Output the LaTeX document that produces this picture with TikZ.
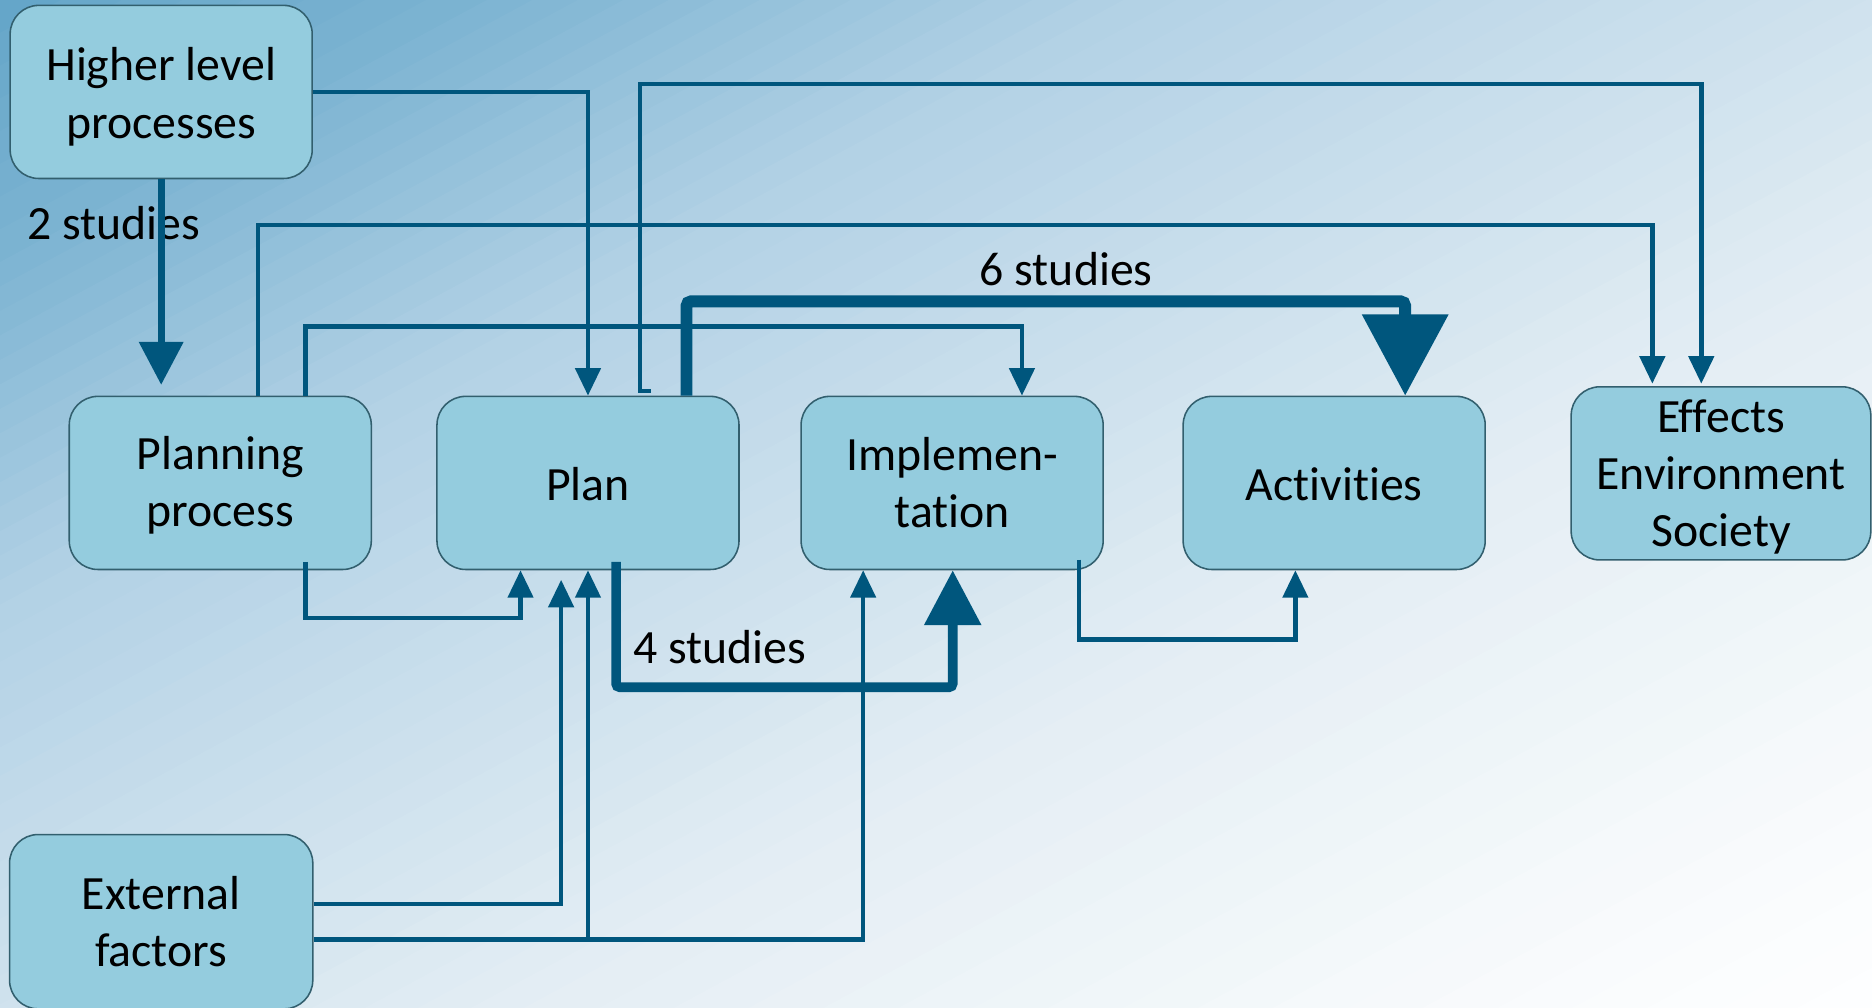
\documentclass[tikz,border=0pt]{standalone}
\usepackage{fontspec}
\setmainfont[Ligatures=NoCommon]{Carlito}
\usetikzlibrary{arrows.meta,calc}
\definecolor{gA}{RGB}{100,165,200}
\definecolor{gB}{RGB}{125,180,210}
\definecolor{gC}{RGB}{178,209,229}
\definecolor{gD}{RGB}{228,238,244}
\definecolor{gE}{RGB}{250,252,253}
\definecolor{gF}{RGB}{253,254,255}
\definecolor{boxfill}{RGB}{148,204,222}
\definecolor{boxline}{RGB}{50,95,110}
\definecolor{conn}{RGB}{0,86,125}
\begin{document}
\begin{tikzpicture}[x=1pt,y=-1pt,
  box/.style={draw=boxline, line width=1.3pt, fill=boxfill, rounded corners=24pt,
    minimum width=253pt, minimum height=145pt, inner sep=0pt},
  boxtxt/.style={align=center, inner sep=0pt, font=\fontsize{40}{48}\selectfont},
  lbl/.style={font=\fontsize{40}{48}\selectfont, inner sep=0pt},
  thinarr/.style={draw=conn, line width=3.7pt, -{Triangle[width=21pt,length=23pt]}},
  thickA/.style={draw=conn, line width=6pt, -{Triangle[width=36pt,length=36pt]}},
  thickB/.style={draw=conn, line width=10pt, rounded corners=4pt, -{Triangle[width=70pt,length=68pt]}},
  thickC/.style={draw=conn, line width=8pt, rounded corners=3pt, -{Triangle[width=46pt,length=46pt]}}
]
% background gradient (diagonal strips)
\begin{scope}
\clip (0,0) rectangle (1568,844);
\foreach \sa/\sb/\ca/\cb/\nn in {0/0.26/gA/gB/8, 0.26/0.6/gB/gC/14, 0.6/1.28/gC/gD/24, 1.28/1.84/gD/gE/14, 1.84/2.0/gE/gF/4}{
  \foreach \k in {1,...,\nn}{
    \pgfmathsetmacro\ssA{\sa+(\sb-\sa)*(\k-1)/\nn}
    \pgfmathsetmacro\ssB{\sa+(\sb-\sa)*\k/\nn+0.004}
    \pgfmathsetmacro\pp{100*(\k-0.5)/\nn}
    \colorlet{stripc}{\cb!\pp!\ca}
    \fill[stripc] (\ssA*1568,0) -- (\ssB*1568,0) -- (0,\ssB*844) -- (0,\ssA*844) -- cycle;
  }
}
\end{scope}
\useasboundingbox (0,0) rectangle (1568,844);

% boxes
\node[box] (hl) at (135,77) {};
\node[box] (pp) at (184.5,404.5) {};
\node[box] (plan) at (492.5,404.5) {};
\node[box] (impl) at (797.5,404.5) {};
\node[box] (act) at (1117.5,404.5) {};
\node[box, minimum width=251pt] (eff) at (1441.5,396.5) {};
\node[box, minimum width=254pt, minimum height=146pt] (ext) at (135,772) {};

% box texts
\node[boxtxt] (hlt) at ($(hl.center)+(0,4)$) {Higher level\\processes};
\node[boxtxt] (ppt) at ($(pp.center)+(0,2)$) {Planning\\process};
\node[boxtxt] (plant) at ($(plan.center)+(0,1)$) {Plan};
\node[boxtxt] (implt) at ($(impl.center)+(0,0)$) {Implemen-\\tation};
\node[boxtxt] (actt) at ($(act.center)+(0,1)$) {Activities};
\node[boxtxt] (efft) at ($(eff.center)+(0,3)$) {Effects\\Environment\\Society};
\node[boxtxt] (extt) at ($(ext.center)+(0,0)$) {External\\factors};

% labels
\node[lbl] (l2) at (95,187) {2 studies};
\node[lbl] (l6) at (893,225) {6 studies};
\node[lbl] (l4) at (603,542) {4 studies};

% connectors
\draw[thickA] (hl.south) -- ($(pp.north)+(-49.5,-9)$);
\draw[thinarr] (hl.east) -| (plan.north);
\coordinate (p1) at ($(plan.north)+(52.5,-4)$);
\draw[thinarr] (p1) -- ++(-9,0) -- ++(0,-257) -| ($(eff.north)+(-16.5,-2)$);
\draw[thinarr] ($(pp.north)+(31.5,0)$) -- ++(0,-143) -| ($(eff.north)+(-57.5,-2)$);
\draw[thinarr] ($(pp.north)+(71.5,0)$) -- ++(0,-58) -| ($(impl.north)+(58.5,0)$);
\draw[thickB] ($(plan.north)+(82.5,0)$) -- ++(0,-79) -| ($(act.north)+(59.5,0)$);
\draw[thinarr] ($(pp.south)+(71.5,-7)$) -- ++(0,47) -| ($(plan.south)+(-56.5,0)$);
\draw[thickC] ($(plan.south)+(23.5,-7)$) -- ++(0,105) -| ($(impl.south)+(0.5,0)$);
\draw[thinarr] ($(ext.east)+(0,-15)$) -| ($(plan.south)+(-22.5,8)$);
\coordinate (eb) at ($(ext.east)+(0,15)$);
\draw[thinarr] (eb) -| ($(impl.south)+(-74.5,0)$);
\draw[thinarr] (eb -| plan.south) -- (plan.south);
\draw[thinarr] ($(impl.south)+(106.5,-9)$) -- ++(0,67) -| ($(act.south)+(-32.5,0)$);
\end{tikzpicture}
\end{document}
